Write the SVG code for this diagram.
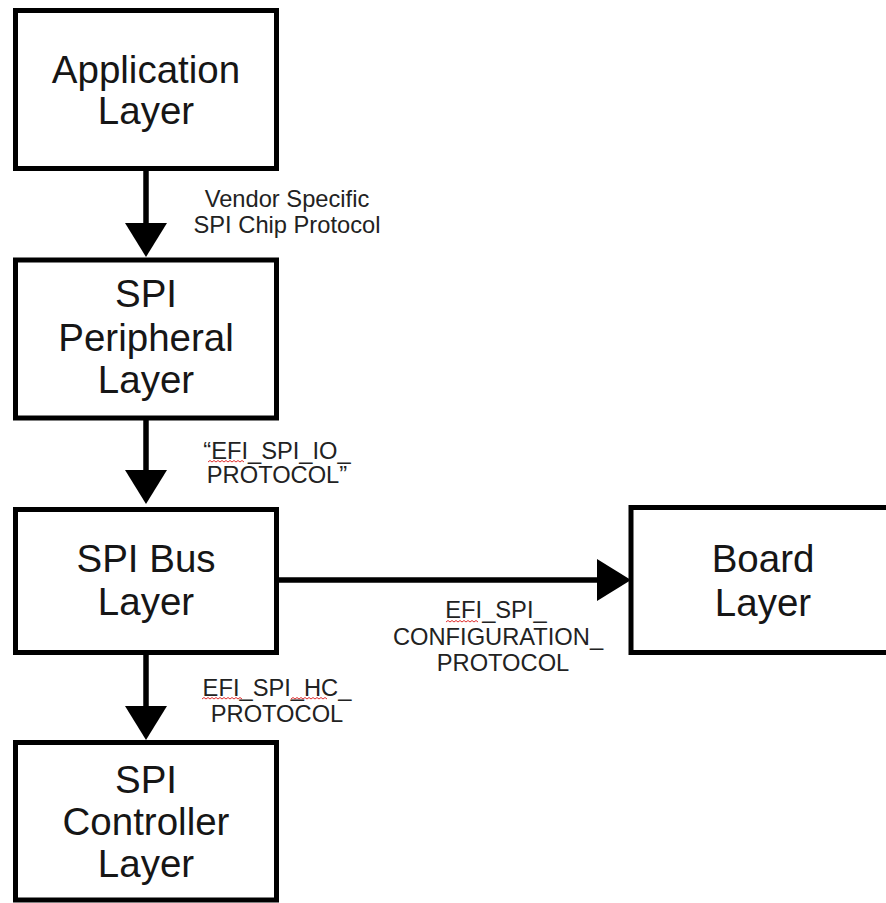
<svg xmlns="http://www.w3.org/2000/svg" width="886" height="903" viewBox="0 0 886 903">
<defs>
<style>
.box{fill:#fff;stroke:#000;stroke-width:5}
.bt{font-family:"Liberation Sans",Arial,sans-serif;font-size:38.5px;fill:#161616;text-anchor:middle}
.lb{font-family:"Liberation Sans",Arial,sans-serif;font-size:23.7px;fill:#222;text-anchor:middle}
.conn{stroke:#000;stroke-width:5.5;fill:none}
.sq{stroke:#e03030;stroke-width:1;fill:none}
</style>
<marker id="ah" markerUnits="userSpaceOnUse" viewBox="0 -21 34 42" markerWidth="34" markerHeight="42" refX="0" refY="0" orient="auto" overflow="visible">
<path d="M0,-21 L34,0 L0,21 z" fill="#000"/>
</marker>
</defs>
<rect width="886" height="903" fill="#fff"/>
<g id="connectors">
<line class="conn" x1="146" y1="171" x2="146" y2="223" marker-end="url(#ah)"/>
<line class="conn" x1="146" y1="420" x2="146" y2="470" marker-end="url(#ah)"/>
<line class="conn" x1="146" y1="655" x2="146" y2="706" marker-end="url(#ah)"/>
<line class="conn" x1="279" y1="580" x2="597" y2="580" marker-end="url(#ah)"/>
</g>
<g id="app">
<rect class="box" x="15.5" y="10.5" width="261" height="158"/>
<text class="bt" x="146" y="83">Application</text>
<text class="bt" x="146" y="124">Layer</text>
</g>
<g id="periph">
<rect class="box" x="15.5" y="260" width="261" height="158"/>
<text class="bt" x="146" y="307">SPI</text>
<text class="bt" x="146" y="351">Peripheral</text>
<text class="bt" x="146" y="393">Layer</text>
</g>
<g id="bus">
<rect class="box" x="15.5" y="509.5" width="261" height="143"/>
<text class="bt" x="146" y="572">SPI Bus</text>
<text class="bt" x="146" y="615">Layer</text>
</g>
<g id="controller">
<rect class="box" x="15.5" y="742.5" width="261" height="157.5"/>
<text class="bt" x="146" y="793">SPI</text>
<text class="bt" x="146" y="835">Controller</text>
<text class="bt" x="146" y="877">Layer</text>
</g>
<g id="board">
<rect class="box" x="631" y="507.5" width="280" height="145"/>
<text class="bt" x="763" y="572">Board</text>
<text class="bt" x="763" y="616">Layer</text>
</g>
<g id="labels">
<text class="lb" x="287" y="207">Vendor Specific</text>
<text class="lb" x="287" y="233">SPI Chip Protocol</text>
<text class="lb" x="277" y="459">“EFI_SPI_IO_</text>
<text class="lb" x="277" y="483">PROTOCOL”</text>
<text class="lb" x="496" y="618">EFI_SPI_</text>
<text class="lb" x="498" y="645">CONFIGURATION_</text>
<text class="lb" x="503" y="671">PROTOCOL</text>
<text class="lb" x="277" y="696">EFI_SPI_HC_</text>
<text class="lb" x="277" y="722">PROTOCOL</text>
<path class="sq" d="M208,462 l2,-1.5 l2,1.5 l2,-1.5 l2,1.5 l2,-1.5 l2,1.5 l2,-1.5 l2,1.5 l2,-1.5 l2,1.5 l2,-1.5 l2,1.5 l2,-1.5 l2,1.5 l2,-1.5 l2,1.5 l2,-1.5 l2,1.5"/>
<path class="sq" d="M446,622 l2,-1.5 l2,1.5 l2,-1.5 l2,1.5 l2,-1.5 l2,1.5 l2,-1.5 l2,1.5 l2,-1.5 l2,1.5 l2,-1.5 l2,1.5 l2,-1.5 l2,1.5 l2,-1.5 l2,1.5"/>
<path class="sq" d="M202,699 l2,-1.5 l2,1.5 l2,-1.5 l2,1.5 l2,-1.5 l2,1.5 l2,-1.5 l2,1.5 l2,-1.5 l2,1.5 l2,-1.5 l2,1.5 l2,-1.5 l2,1.5 l2,-1.5 l2,1.5 l2,-1.5 l2,1.5 l2,-1.5 l2,1.5"/>
<path class="sq" d="M291,699 l2,-1.5 l2,1.5 l2,-1.5 l2,1.5 l2,-1.5 l2,1.5 l2,-1.5 l2,1.5 l2,-1.5 l2,1.5 l2,-1.5 l2,1.5 l2,-1.5 l2,1.5 l2,-1.5 l2,1.5 l2,-1.5 l2,1.5"/>
</g>
</svg>
